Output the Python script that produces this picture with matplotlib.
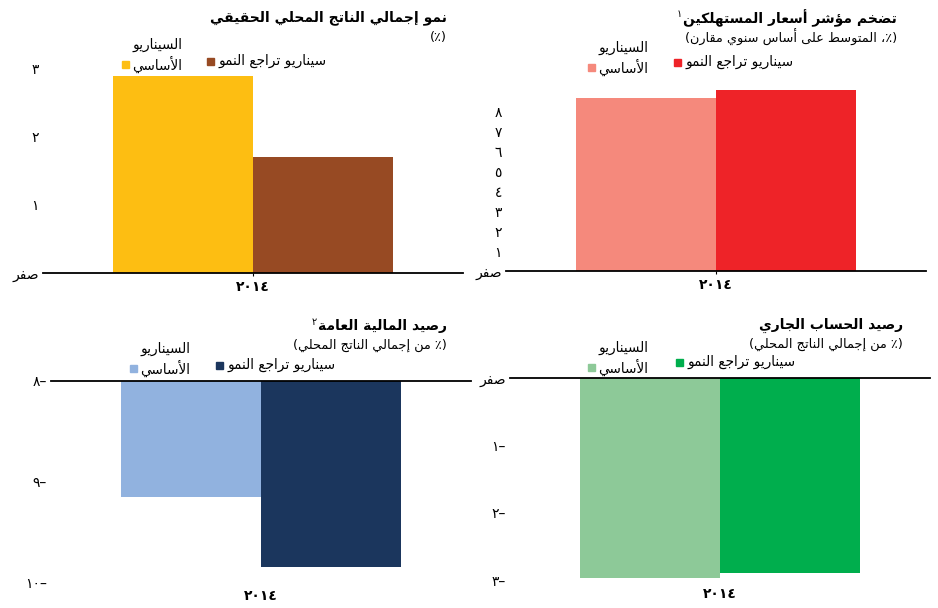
import matplotlib
matplotlib.use("Agg")
import matplotlib.pyplot as plt
from matplotlib.patches import Rectangle

plt.rcParams['font.family'] = ['DejaVu Sans']

# data
years = ['٢٠١٤']
growth_base = [2.9]
growth_down = [1.7]
cpi_base = [8.7]
cpi_down = [9.1]
fiscal_base = [-9.15]
fiscal_down = [-9.85]
ca_base = [-2.97]
ca_down = [-2.9]

growth_ticks = [0, 1, 2, 3]
growth_labels = ['صفر', '١', '٢', '٣']
cpi_ticks = [0, 1, 2, 3, 4, 5, 6, 7, 8]
cpi_labels = ['صفر', '١', '٢', '٣', '٤', '٥', '٦', '٧', '٨']
fiscal_ticks = [-8, -9, -10]
fiscal_labels = ['–٨', '–٩', '–١٠']
ca_ticks = [0, -1, -2, -3]
ca_labels = ['صفر', '–١', '–٢', '–٣']

base_name = ['السيناريو', 'الأساسي']
down_name = 'سيناريو تراجع النمو'

# matplotlib has no arabic shaping, so map letters to presentation forms
DUAL = {'ئ': 0xFE89, 'ب': 0xFE8F, 'ت': 0xFE95, 'ث': 0xFE99, 'ج': 0xFE9D,
        'ح': 0xFEA1, 'خ': 0xFEA5, 'س': 0xFEB1, 'ش': 0xFEB5, 'ص': 0xFEB9,
        'ض': 0xFEBD, 'ط': 0xFEC1, 'ظ': 0xFEC5, 'ع': 0xFEC9, 'غ': 0xFECD,
        'ف': 0xFED1, 'ق': 0xFED5, 'ك': 0xFED9, 'ل': 0xFEDD, 'م': 0xFEE1,
        'ن': 0xFEE5, 'ه': 0xFEE9, 'ي': 0xFEF1}
RIGHT = {'آ': 0xFE81, 'أ': 0xFE83, 'ؤ': 0xFE85, 'إ': 0xFE87, 'ا': 0xFE8D,
         'ة': 0xFE93, 'د': 0xFEA9, 'ذ': 0xFEAB, 'ر': 0xFEAD, 'ز': 0xFEAF,
         'و': 0xFEED, 'ى': 0xFEEF}
LAMALEF = {'آ': 0xFEF5, 'أ': 0xFEF7, 'إ': 0xFEF9, 'ا': 0xFEFB}
DIGITS = '0123456789٠١٢٣٤٥٦٧٨٩'
MIRROR = {'(': ')', ')': '('}


def shape_line(s):
    tokens = []
    i = 0
    while i < len(s):
        if s[i] == 'ل' and i + 1 < len(s) and s[i + 1] in LAMALEF:
            tokens.append(('LA', LAMALEF[s[i + 1]]))
            i += 2
        else:
            tokens.append(s[i])
            i += 1

    def joins_next(t):
        return isinstance(t, str) and t in DUAL

    def joins_prev(t):
        return isinstance(t, tuple) or t in DUAL or t in RIGHT

    out = []
    for k, t in enumerate(tokens):
        prev = tokens[k - 1] if k > 0 else None
        nxt = tokens[k + 1] if k + 1 < len(tokens) else None
        cp = prev is not None and joins_next(prev) and joins_prev(t)
        cn = nxt is not None and joins_next(t) and joins_prev(nxt)
        if isinstance(t, tuple):
            out.append(chr(t[1] + (1 if cp else 0)))
        elif t in DUAL:
            off = 3 if (cp and cn) else 1 if cp else 2 if cn else 0
            out.append(chr(DUAL[t] + off))
        elif t in RIGHT:
            out.append(chr(RIGHT[t] + (1 if cp else 0)))
        else:
            out.append(t)

    # visual order: reverse, keep digit runs left to right
    runs = []
    for c in out:
        if c in DIGITS and runs and runs[-1][0] in DIGITS:
            runs[-1] += c
        else:
            runs.append(c)
    runs = [MIRROR.get(r, r) for r in reversed(runs)]
    return ''.join(runs)


def ar(s):
    return '\n'.join(shape_line(line) for line in s.split('\n'))


W, H = 938, 608
fig = plt.figure(figsize=(W / 100, H / 100), dpi=100)


def fx(x):
    return x / W


def fy(y):
    return 1 - y / H


def panel(box, lim, ticks, labels, base, down, c_base, c_down, top_line):
    x0, y0, x1, y1 = box
    ax = fig.add_axes([fx(x0), fy(y1), (x1 - x0) / W, (y1 - y0) / H])
    ref = lim[1] if top_line else 0
    ax.bar([-0.5], [base[0] - ref], bottom=ref, width=1, color=c_base)
    ax.bar([0.5], [down[0] - ref], bottom=ref, width=1, color=c_down)
    ax.set_xlim(-1.5, 1.5)
    ax.set_ylim(*lim)
    for s in ['left', 'right', 'top', 'bottom']:
        ax.spines[s].set_visible(False)
    line = 'top' if top_line else 'bottom'
    ax.spines[line].set_visible(True)
    ax.spines[line].set_linewidth(1.3)
    ax.set_yticks(ticks)
    ax.set_yticklabels([ar(t) for t in labels], fontsize=10)
    ax.tick_params(axis='y', length=0, pad=3)
    ax.set_xticks([0])
    ax.set_xticklabels([ar(y) for y in years], fontsize=10, fontweight='bold')
    if top_line:
        ax.tick_params(axis='x', length=0, pad=5)
    else:
        ax.tick_params(axis='x', length=2, width=0.8, pad=3)
    ax.patch.set_alpha(0)
    return ax


def heading(xr, y, title, sub, sup=None):
    t = fig.text(fx(xr), fy(y), ar(title), ha='right', va='center',
                 fontsize=10, fontweight='bold')
    fig.text(fx(xr), fy(y + 19), ar(sub), ha='right', va='center',
             fontsize=9.3)
    if sup:
        fig.canvas.draw()
        bb = t.get_window_extent()
        fig.text(bb.x0 / W - 0.001, fy(y - 4), sup, ha='right', va='center',
                 fontsize=7)


def legend(x_down, y_down, c_down, xr_base, y_base, c_base):
    s = 7
    fig.add_artist(Rectangle((fx(x_down), fy(y_down + s / 2)), s / W, s / H,
                             color=c_down, transform=fig.transFigure))
    fig.text(fx(x_down + s + 4), fy(y_down), ar(down_name), ha='left',
             va='center', fontsize=9.8)
    fig.text(fx(xr_base), fy(y_base - 19), ar(base_name[0]), ha='right',
             va='center', fontsize=9.8)
    t2 = fig.text(fx(xr_base), fy(y_base), ar(base_name[1]), ha='right',
                  va='center', fontsize=9.8)
    fig.canvas.draw()
    x_left = t2.get_window_extent().x0
    fig.add_artist(Rectangle(((x_left - 3 - s) / W, fy(y_base + s / 2)),
                             s / W, s / H, color=c_base,
                             transform=fig.transFigure))


# top left: real GDP growth
panel((43, 69, 463, 273), (0, 3), growth_ticks, growth_labels,
      growth_base, growth_down, '#FDBE12', '#974A23', False)
heading(447, 18, 'نمو إجمالي الناتج المحلي الحقيقي', '(٪)')
legend(207, 61, '#974A23', 182, 64, '#FDBE12')

# top right: CPI inflation
panel((506, 88, 926, 271), (0, 9.2), cpi_ticks, cpi_labels,
      cpi_base, cpi_down, '#F5897C', '#EE2328', False)
heading(897, 18, 'تضخم مؤشر أسعار المستهلكين',
        '(٪، المتوسط على أساس سنوي مقارن)', '١')
legend(674, 62, '#EE2328', 648, 67, '#F5897C')

# bottom left: fiscal balance
panel((51, 381, 471, 582), (-10, -8), fiscal_ticks, fiscal_labels,
      fiscal_base, fiscal_down, '#91B2DF', '#1B365D', True)
heading(447, 326, 'رصيد المالية العامة', '(٪ من إجمالي الناتج المحلي)', '٢')
legend(216, 365, '#1B365D', 190, 368, '#91B2DF')

# bottom right: current account balance
panel((510, 378, 930, 580), (-3, 0), ca_ticks, ca_labels,
      ca_base, ca_down, '#8DC998', '#00AE4D', True)
heading(903, 325, 'رصيد الحساب الجاري', '(٪ من إجمالي الناتج المحلي)')
legend(676, 362, '#00AE4D', 648, 367, '#8DC998')

fig.savefig('out.png', dpi=100)
